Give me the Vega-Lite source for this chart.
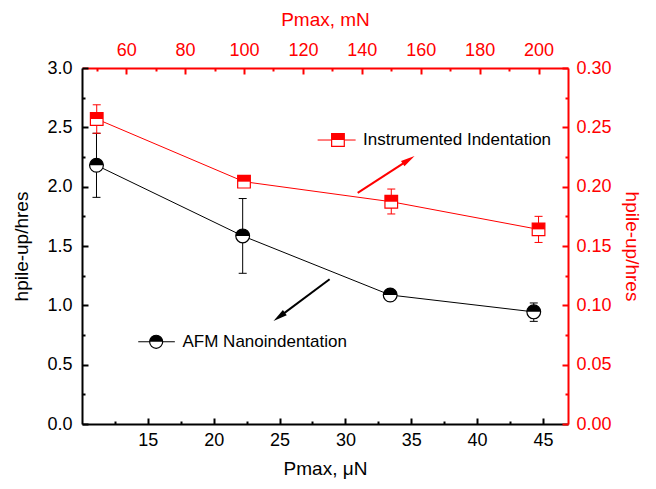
{
  "$schema": "https://vega.github.io/schema/vega-lite/v6.json",
  "width": 486,
  "height": 356,
  "autosize": "none",
  "padding": {"left": 82, "top": 68, "right": 88, "bottom": 65},
  "background": "white",
  "config": {"view": {"stroke": null}, "font": "Liberation Sans"},
  "datasets": {
    "afm": [
      {"p": 11.1, "h": 2.18, "lo": 1.91, "hi": 2.45},
      {"p": 22.2, "h": 1.585, "lo": 1.27, "hi": 1.9},
      {"p": 33.4, "h": 1.087, "lo": 1.06, "hi": 1.11},
      {"p": 44.3, "h": 0.945, "lo": 0.865, "hi": 1.02}
    ],
    "afmKey": [
      {"p": 15.63, "h": 0.693, "from": 14.27, "to": 17.05, "tx": 17.63, "label": "AFM Nanoindentation"}
    ],
    "afmArrow": [
      {"p": 28.8, "h": 1.22, "p2": 24.97, "h2": 0.903}
    ],
    "ii": [
      {"pm": 50, "r": 0.257, "rlo": 0.245, "rhi": 0.269},
      {"pm": 100, "r": 0.2042, "rlo": 0.2005, "rhi": 0.208},
      {"pm": 150, "r": 0.1873, "rlo": 0.177, "rhi": 0.198},
      {"pm": 200, "r": 0.164, "rlo": 0.153, "rhi": 0.175}
    ],
    "iiKey": [
      {"pm": 131.9, "r": 0.2393, "from": 125.0, "to": 137.9, "tx": 140.4, "label": "Instrumented Indentation"}
    ],
    "iiArrow": [
      {"pm": 138.6, "r": 0.1947, "pm2": 155.9, "r2": 0.2226}
    ]
  },
  "layer": [
    {
      "encoding": {
        "x": {
          "field": "p",
          "type": "quantitative",
          "scale": {"domain": [10, 46.9], "nice": false, "zero": false},
          "title": "Pmax, μN",
          "axis": {
            "orient": "bottom",
            "values": [12.5, 15, 17.5, 20, 22.5, 25, 27.5, 30, 32.5, 35, 37.5, 40, 42.5, 45],
            "labelExpr": "datum.value % 5 === 0 ? datum.label : ''",
            "grid": false,
            "domainColor": "black",
            "domainWidth": 2,
            "tickColor": "black",
            "tickWidth": 2,
            "tickSize": {"condition": {"test": "datum.value % 5 === 0", "value": -6}, "value": -3},
            "labelFont": "Liberation Sans",
            "labelFontSize": 18,
            "labelColor": "black",
            "labelPadding": 13,
            "labelFlush": false,
            "labelOverlap": false,
            "titleFont": "Liberation Sans",
            "titleFontSize": 19,
            "titleFontWeight": "normal",
            "titleColor": "black",
            "titlePadding": 7
          }
        },
        "y": {
          "field": "h",
          "type": "quantitative",
          "scale": {"domain": [0, 3], "nice": false, "zero": false},
          "title": "hpile-up/hres",
          "axis": {
            "orient": "left",
            "values": [0, 0.25, 0.5, 0.75, 1, 1.25, 1.5, 1.75, 2, 2.25, 2.5, 2.75, 3],
            "format": ".1f",
            "labelExpr": "round(datum.value * 4) % 2 === 0 ? datum.label : ''",
            "grid": false,
            "domainColor": "black",
            "domainWidth": 2,
            "tickColor": "black",
            "tickWidth": 2,
            "tickSize": {"condition": {"test": "round(datum.value * 4) % 2 === 0", "value": -6}, "value": -3},
            "labelFont": "Liberation Sans",
            "labelFontSize": 18,
            "labelColor": "black",
            "labelPadding": 16,
            "labelFlush": false,
            "labelOverlap": false,
            "titleFont": "Liberation Sans",
            "titleFontSize": 19,
            "titleFontWeight": "normal",
            "titleColor": "black",
            "titlePadding": 15
          }
        }
      },
      "layer": [
        {"data": {"name": "afm"}, "mark": {"type": "line", "color": "black", "strokeWidth": 1}},
        {"data": {"name": "afm"}, "mark": {"type": "rule", "color": "black", "strokeWidth": 1},
         "encoding": {"y": {"field": "lo", "type": "quantitative"}, "y2": {"field": "hi"}}},
        {"data": {"name": "afm"}, "mark": {"type": "tick", "orient": "horizontal", "size": 8, "thickness": 1, "color": "black", "opacity": 1},
         "encoding": {"y": {"field": "lo", "type": "quantitative"}}},
        {"data": {"name": "afm"}, "mark": {"type": "tick", "orient": "horizontal", "size": 8, "thickness": 1, "color": "black", "opacity": 1},
         "encoding": {"y": {"field": "hi", "type": "quantitative"}}},
        {"data": {"name": "afm"}, "mark": {"type": "point", "shape": "circle", "size": 190, "filled": true, "fill": "white", "stroke": "black", "strokeWidth": 1.2, "opacity": 1}},
        {"data": {"name": "afm"}, "mark": {"type": "point", "shape": "M -1 0 A 1 1 0 0 1 1 0 Z", "size": 190, "filled": true, "fill": "black", "strokeWidth": 0, "opacity": 1}},
        {"data": {"name": "afmKey"}, "mark": {"type": "rule", "color": "black", "strokeWidth": 1},
         "encoding": {"x": {"field": "from", "type": "quantitative"}, "x2": {"field": "to"}}},
        {"data": {"name": "afmKey"}, "mark": {"type": "point", "shape": "circle", "size": 170, "filled": true, "fill": "white", "stroke": "black", "strokeWidth": 1.2, "opacity": 1}},
        {"data": {"name": "afmKey"}, "mark": {"type": "point", "shape": "M -1 0 A 1 1 0 0 1 1 0 Z", "size": 170, "filled": true, "fill": "black", "strokeWidth": 0, "opacity": 1}},
        {"data": {"name": "afmKey"}, "mark": {"type": "text", "align": "left", "baseline": "middle", "fontSize": 17, "font": "Liberation Sans", "color": "black"},
         "encoding": {"x": {"field": "tx", "type": "quantitative"}, "text": {"field": "label"}}},
        {"data": {"name": "afmArrow"}, "mark": {"type": "rule", "color": "black", "strokeWidth": 2},
         "encoding": {"x2": {"field": "p2"}, "y2": {"field": "h2"}}},
        {"data": {"name": "afmArrow"}, "mark": {"type": "point", "shape": "M 0 -1 L 0.45 1 L -0.45 1 Z", "size": 200, "filled": true, "color": "black", "angle": 233, "opacity": 1},
         "encoding": {"x": {"field": "p2", "type": "quantitative"}, "y": {"field": "h2", "type": "quantitative"}}}
      ]
    },
    {
      "encoding": {
        "x": {
          "field": "pm",
          "type": "quantitative",
          "scale": {"domain": [45, 210], "nice": false, "zero": false},
          "title": "Pmax, mN",
          "axis": {
            "orient": "top",
            "values": [50, 60, 70, 80, 90, 100, 110, 120, 130, 140, 150, 160, 170, 180, 190, 200],
            "labelExpr": "datum.value % 20 === 0 ? datum.label : ''",
            "grid": false,
            "domainColor": "#ff0000",
            "domainWidth": 2,
            "tickColor": "#ff0000",
            "tickWidth": 2,
            "tickSize": {"condition": {"test": "datum.value % 20 === 0", "value": -6}, "value": -3},
            "labelFont": "Liberation Sans",
            "labelFontSize": 18,
            "labelColor": "#ff0000",
            "labelPadding": 15,
            "labelFlush": false,
            "labelOverlap": false,
            "titleFont": "Liberation Sans",
            "titleFontSize": 19,
            "titleFontWeight": "normal",
            "titleColor": "#ff0000",
            "titlePadding": 9
          }
        },
        "y": {
          "field": "r",
          "type": "quantitative",
          "scale": {"domain": [0, 0.3], "nice": false, "zero": false},
          "title": "hpile-up/hres",
          "axis": {
            "orient": "right",
            "values": [0, 0.025, 0.05, 0.075, 0.1, 0.125, 0.15, 0.175, 0.2, 0.225, 0.25, 0.275, 0.3],
            "format": ".2f",
            "labelExpr": "round(datum.value * 40) % 2 === 0 ? datum.label : ''",
            "grid": false,
            "domainColor": "#ff0000",
            "domainWidth": 2,
            "tickColor": "#ff0000",
            "tickWidth": 2,
            "tickSize": {"condition": {"test": "round(datum.value * 40) % 2 === 0", "value": -6}, "value": -3},
            "labelFont": "Liberation Sans",
            "labelFontSize": 18,
            "labelColor": "#ff0000",
            "labelPadding": 14,
            "labelFlush": false,
            "labelOverlap": false,
            "titleFont": "Liberation Sans",
            "titleFontSize": 19,
            "titleFontWeight": "normal",
            "titleColor": "#ff0000",
            "titlePadding": 10
          }
        }
      },
      "layer": [
        {"data": {"name": "ii"}, "mark": {"type": "line", "color": "#ff0000", "strokeWidth": 1}},
        {"data": {"name": "ii"}, "mark": {"type": "rule", "color": "#ff0000", "strokeWidth": 1},
         "encoding": {"y": {"field": "rlo", "type": "quantitative"}, "y2": {"field": "rhi"}}},
        {"data": {"name": "ii"}, "mark": {"type": "tick", "orient": "horizontal", "size": 8, "thickness": 1, "color": "#ff0000", "opacity": 1},
         "encoding": {"y": {"field": "rlo", "type": "quantitative"}}},
        {"data": {"name": "ii"}, "mark": {"type": "tick", "orient": "horizontal", "size": 8, "thickness": 1, "color": "#ff0000", "opacity": 1},
         "encoding": {"y": {"field": "rhi", "type": "quantitative"}}},
        {"data": {"name": "ii"}, "mark": {"type": "point", "shape": "square", "size": 160, "filled": true, "fill": "white", "stroke": "#ff0000", "strokeWidth": 1.2, "opacity": 1}},
        {"data": {"name": "ii"}, "mark": {"type": "point", "shape": "M -1 -1 L 1 -1 L 1 0 L -1 0 Z", "size": 160, "filled": true, "fill": "#ff0000", "strokeWidth": 0, "opacity": 1}},
        {"data": {"name": "iiKey"}, "mark": {"type": "rule", "color": "#ff0000", "strokeWidth": 1},
         "encoding": {"x": {"field": "from", "type": "quantitative"}, "x2": {"field": "to"}}},
        {"data": {"name": "iiKey"}, "mark": {"type": "point", "shape": "square", "size": 160, "filled": true, "fill": "white", "stroke": "#ff0000", "strokeWidth": 1.2, "opacity": 1}},
        {"data": {"name": "iiKey"}, "mark": {"type": "point", "shape": "M -1 -1 L 1 -1 L 1 0 L -1 0 Z", "size": 160, "filled": true, "fill": "#ff0000", "strokeWidth": 0, "opacity": 1}},
        {"data": {"name": "iiKey"}, "mark": {"type": "text", "align": "left", "baseline": "middle", "fontSize": 17, "font": "Liberation Sans", "color": "black"},
         "encoding": {"x": {"field": "tx", "type": "quantitative"}, "text": {"field": "label"}}},
        {"data": {"name": "iiArrow"}, "mark": {"type": "rule", "color": "#ff0000", "strokeWidth": 2},
         "encoding": {"x2": {"field": "pm2"}, "y2": {"field": "r2"}}},
        {"data": {"name": "iiArrow"}, "mark": {"type": "point", "shape": "M 0 -1 L 0.45 1 L -0.45 1 Z", "size": 200, "filled": true, "color": "#ff0000", "angle": 57, "opacity": 1},
         "encoding": {"x": {"field": "pm2", "type": "quantitative"}, "y": {"field": "r2", "type": "quantitative"}}}
      ]
    }
  ],
  "resolve": {"scale": {"x": "independent", "y": "independent"}}
}
